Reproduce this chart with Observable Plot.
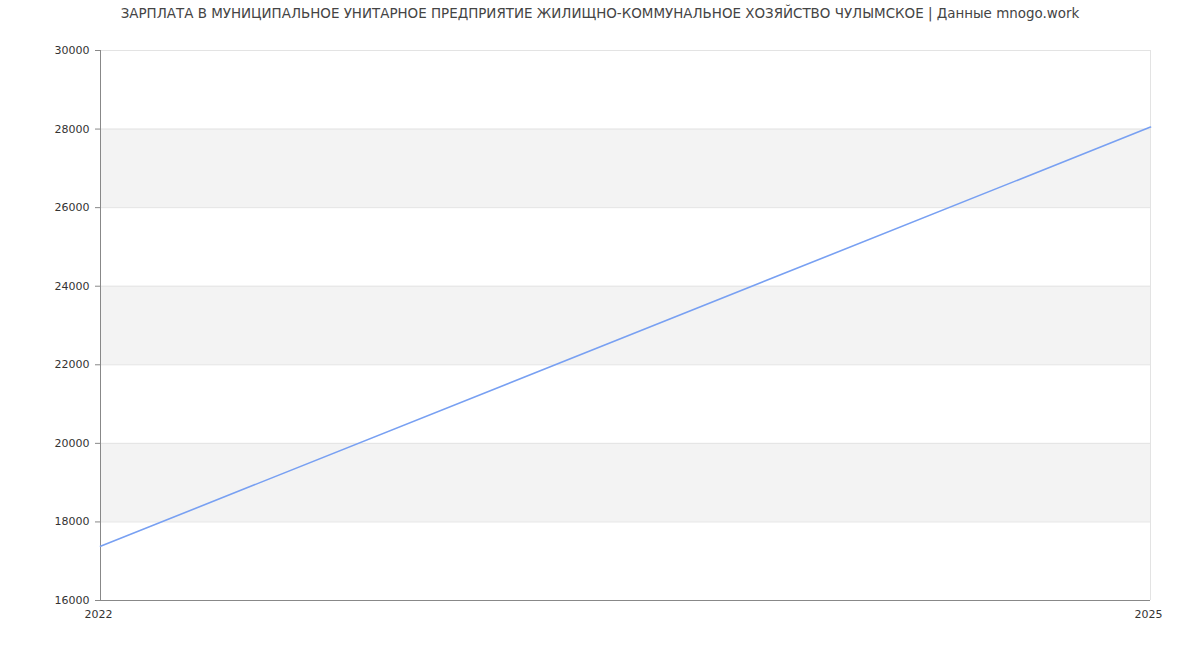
<!DOCTYPE html>
<html>
<head>
<meta charset="utf-8">
<script src="https://cdn.jsdelivr.net/npm/d3@7"></script>
<script src="https://cdn.jsdelivr.net/npm/@observablehq/plot@0.6"></script>
<style>
  body { margin: 0; background: #fff; font-family: "DejaVu Sans", sans-serif; }
  #title { height: 28px; line-height: 28px; text-align: center; font-size: 13.45px; color: #444; white-space: nowrap; }
</style>
</head>
<body>
<div id="title">ЗАРПЛАТА В МУНИЦИПАЛЬНОЕ УНИТАРНОЕ ПРЕДПРИЯТИЕ ЖИЛИЩНО-КОММУНАЛЬНОЕ ХОЗЯЙСТВО ЧУЛЫМСКОЕ | Данные mnogo.work</div>
<div id="chart"></div>
<script>
const years = [2022, 2025];
const salary = [17380, 28050];
const yTicks = [16000, 18000, 20000, 22000, 24000, 26000, 28000, 30000];
const xTicks = [2022, 2025];
const bandStarts = [18000, 22000, 26000];
const bandEnds = [20000, 24000, 28000];

const data = years.map((y, i) => ({year: y, value: salary[i]}));
const bands = bandStarts.map((s, i) => ({y1: s, y2: bandEnds[i]}));

const chart = Plot.plot({
  width: 1200,
  height: 622,
  marginTop: 22,
  marginBottom: 50,
  marginLeft: 100,
  marginRight: 50,
  style: {fontFamily: "DejaVu Sans, sans-serif", fontSize: "11px", color: "#333", background: "#fff"},
  x: {type: "linear", domain: [2022, 2025]},
  y: {domain: [16000, 30000]},
  marks: [
    Plot.rect(bands, {x1: 2022, x2: 2025, y1: "y1", y2: "y2", fill: "#f3f3f3"}),
    Plot.ruleY(yTicks, {stroke: "#e3e3e3", strokeWidth: 1}),
    Plot.ruleX([2025], {stroke: "#e3e3e3", strokeWidth: 1}),
    Plot.axisY({ticks: yTicks, tickSize: 5, tickPadding: 6, tickFormat: d => String(d), label: null, stroke: "#888", fill: "#333"}),
    Plot.axisX({ticks: xTicks, tickSize: 0, tickPadding: 10, tickFormat: d => String(d), label: null, fill: "#333", dx: -2}),
    Plot.ruleX([2022], {stroke: "#888"}),
    Plot.ruleY([16000], {stroke: "#888"}),
    Plot.line(data, {x: "year", y: "value", stroke: "#78a0f2", strokeWidth: 1.6})
  ]
});
document.getElementById("chart").appendChild(chart);
</script>
</body>
</html>
